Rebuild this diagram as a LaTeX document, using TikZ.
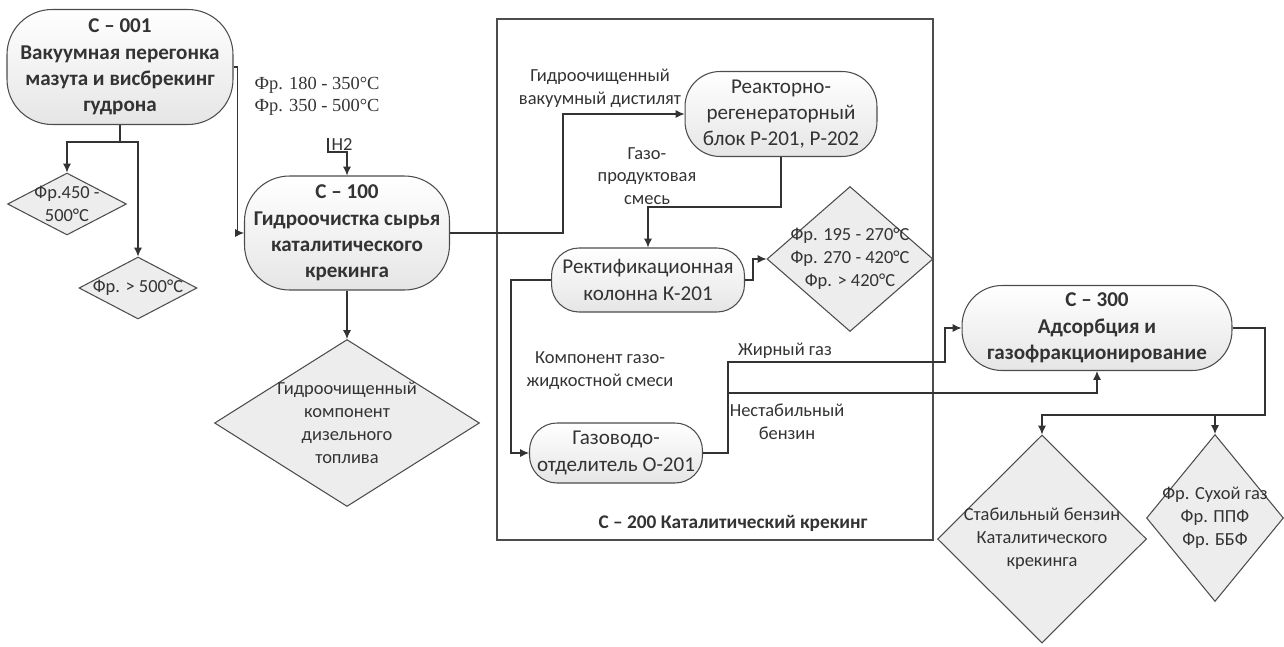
\documentclass[tikz,border=0pt]{standalone}
\usepackage{fontspec}
\setmainfont{Carlito}
\newfontfamily\serifru{Liberation Serif}
\usepackage{tikz}
\usetikzlibrary{arrows,arrows.meta,shapes.geometric,positioning}

\begin{document}
\begin{tikzpicture}[x=0.02cm,y=-0.02cm,>={Latex[length=5pt,width=4.5pt]},line width=0.6pt,color=black!80]
  \tikzstyle{unit}=[rectangle,draw=black!70,top color=white,bottom color=black!10,align=center,inner sep=0pt,font=\fontsize{12}{15}\selectfont]
  \tikzstyle{main unit}=[unit,font=\fontsize{12}{15}\selectfont\bfseries]
  \tikzstyle{product}=[diamond,draw=black!70,fill=black!7,inner sep=0pt]
  \tikzstyle{stream}=[align=center,inner sep=0pt,font=\fontsize{10.5}{13}\selectfont]

  \useasboundingbox (0,0) rectangle (1284,646);

  % section C-200 frame
  \draw[black!70] (497,19) rectangle (933,540);
  \node[stream,font=\fontsize{11}{13}\selectfont\bfseries] (c200) at (733,523) {С – 200 Каталитический крекинг};

  % units
  \node[main unit,rounded corners=0.9cm,minimum width=4.52cm,minimum height=2.3cm] (c001) at (120,67)
    {С – 001\\Вакуумная перегонка\\мазута и висбрекинг\\гудрона};
  \node[main unit,rounded corners=0.9cm,minimum width=4.1cm,minimum height=2.28cm] (c100) at (347,233)
    {С – 100\\Гидроочистка сырья\\каталитического\\крекинга};
  \node[unit,rounded corners=0.7cm,minimum width=3.84cm,minimum height=1.7cm] (reactor) at (781,114)
    {Реакторно-\\регенераторный\\блок Р-201, Р-202};
  \node[unit,rounded corners=0.55cm,minimum width=3.86cm,minimum height=1.28cm] (column) at (648,280)
    {Ректификационная\\колонна К-201};
  \node[unit,rounded corners=0.55cm,minimum width=3.46cm,minimum height=1.2cm] (sep) at (616,453)
    {Газоводо-\\отделитель О-201};
  \node[main unit,rounded corners=0.8cm,minimum width=5.4cm,minimum height=1.7cm] (c300) at (1097,328)
    {С – 300\\Адсорбция и\\газофракционирование};

  % products
  \node[product,minimum width=2.38cm,minimum height=1.24cm] (fr450) at (67,204) {};
  \node[stream] (fr450txt) at (fr450) {Фр.450 -\\500°C};
  \node[product,minimum width=2.36cm,minimum height=1.24cm] (fr500) at (138,288) {};
  \node[stream] (fr500txt) at (fr500) {Фр. > 500°C};
  \node[product,minimum width=5.3cm,minimum height=3.34cm] (diesel) at (347,423) {};
  \node[stream] (dieseltxt) at (diesel) {Гидроочищенный\\компонент\\дизельного\\топлива};
  \node[product,minimum width=3.32cm,minimum height=2.9cm] (frac) at (850,259) {};
  \node[stream] (fractxt) at (frac) {Фр. 195 - 270°C\\Фр. 270 - 420°C\\Фр. > 420°C};
  \node[product,minimum width=4.18cm,minimum height=4.16cm] (gasoline) at (1042,539) {};
  \node[stream] (gasolinetxt) at (gasoline) {Стабильный бензин\\Каталитического\\крекинга};
  \node[product,minimum width=2.74cm,minimum height=3.34cm] (gases) at (1215,518) {};
  \node[stream] (gasestxt) at (gases) {Фр. Сухой газ\\Фр. ППФ\\Фр. ББФ};

  % stream labels
  \node[stream,font=\fontsize{10.5}{12.5}\selectfont\serifru] (feed) at (317,96) {Фр. 180 - 350°C\\Фр. 350 - 500°C};
  \coordinate (h2in) at (328,138);
  \node[stream,anchor=west] (h2) at (331,145) {H2};
  \node[stream] (vgo) at (600,88) {Гидроочищенный\\вакуумный дистилят};
  \node[stream] (gasmix) at (647,176) {Газо-\\продуктовая\\смесь};
  \node[stream] (liqmix) at (600,371) {Компонент газо-\\жидкостной смеси};
  \node[stream] (fatgas) at (785,351) {Жирный газ};
  \node[stream] (naphtha) at (787,422) {Нестабильный\\бензин};

  \coordinate (jog) at (945,362);
  \coordinate (branch) at (728,393);
  \coordinate (bus) at (1265,415);

  % connectors
  \draw[->] (c001.south) -- ++(0,17) -| (fr450.north);
  \draw[->] (c001.south) -- ++(0,17) -| (fr500.north);
  \draw[->] (c001.east) -- ++(4,0) |- (c100.west);
  \draw[->] (h2in) -- ++(0,14) -| (c100.north);
  \draw[->] (c100.south) -- (diesel.north);
  \draw[->] (c100.east) -- ++(113,0) |- (reactor.west);
  \draw[->] (reactor.south) -- ++(0,50) -| (column.north);
  \draw[->] (column.east) -- ++(8,0) |- (frac.west);
  \draw[->] (column.west) -- ++(-40,0) |- (sep.west);
  \draw[->] (sep.east) -- ++(25,0) |- (jog) |- (c300.west);
  \draw[->] (branch) -| (c300.south);
  \draw[->] (c300.east) -| (bus) -| (gasoline.north);
  \draw[->] (gases.north |- bus) -- (gases.north);
\end{tikzpicture}
\end{document}
